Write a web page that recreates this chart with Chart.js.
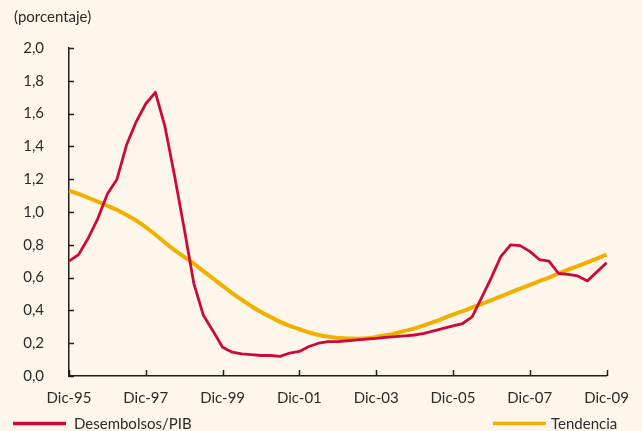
<!DOCTYPE html>
<html lang="es">
<head>
<meta charset="utf-8">
<title>Desembolsos/PIB y tendencia</title>
<script src="https://cdn.jsdelivr.net/npm/chart.js@4.4.1/dist/chart.umd.min.js"></script>
<style>
  html, body { margin: 0; padding: 0; background: #FEF6EA; }
  #wrap { width: 642px; height: 431px; position: relative; }
</style>
</head>
<body>
<div id="wrap"><canvas id="c" width="642" height="431"></canvas></div>
<script>
// Quarterly periods, Dic-95 .. Dic-09
const years = ["95","96","97","98","99","00","01","02","03","04","05","06","07","08","09"];
const months = ["Mar","Jun","Sep","Dic"];
const periods = ["Dic-95"];
for (let y = 1; y < years.length; y++) {
  for (const m of months) periods.push(m + "-" + years[y]);
}

// Labelled ticks on the time axis
const tickLabels = ["Dic-95","Dic-97","Dic-99","Dic-01","Dic-03","Dic-05","Dic-07","Dic-09"];

// Disbursements as a share of GDP (%)
const desembolsos = [
  0.70, 0.74, 0.84, 0.96, 1.11, 1.20, 1.41, 1.55, 1.66, 1.73,
  1.52, 1.22, 0.90, 0.565, 0.37, 0.275, 0.175, 0.145, 0.135, 0.13,
  0.125, 0.125, 0.12, 0.14, 0.15, 0.18, 0.20, 0.21, 0.21, 0.215,
  0.22, 0.225, 0.23, 0.235, 0.24, 0.245, 0.25, 0.26, 0.275, 0.29,
  0.305, 0.32, 0.36, 0.48, 0.60, 0.73, 0.80, 0.795, 0.76, 0.71,
  0.70, 0.625, 0.62, 0.61, 0.58, 0.635, 0.69
];

// Trend component (%)
const tendencia = [
  1.13, 1.11, 1.087, 1.063, 1.038, 1.012, 0.982, 0.948, 0.907, 0.862,
  0.814, 0.767, 0.727, 0.685, 0.64, 0.595, 0.55, 0.505, 0.465, 0.425,
  0.39, 0.36, 0.33, 0.305, 0.285, 0.265, 0.25, 0.24, 0.232, 0.228,
  0.227, 0.23, 0.238, 0.248, 0.26, 0.275, 0.29, 0.31, 0.33, 0.352,
  0.375, 0.395, 0.418, 0.44, 0.463, 0.486, 0.51, 0.533, 0.555, 0.578,
  0.60, 0.625, 0.648, 0.67, 0.693, 0.716, 0.74
];

const seriesNames = ["Desembolsos/PIB", "Tendencia"];
const seriesColors = ["#CC0A3A", "#EFB000"];

const FONT = "Lato, 'Open Sans', sans-serif";
const TEXT = "#2b2b2b";
const AXIS = "#1e1e1e";

// Inward tick marks on both axes
const innerTicks = {
  id: "innerTicks",
  afterDraw(chart) {
    const { ctx, chartArea, scales: { x, y } } = chart;
    ctx.save();
    ctx.strokeStyle = AXIS;
    ctx.lineWidth = 1.5;
    ctx.beginPath();
    y.ticks.forEach((t, i) => {
      const py = Math.round(y.getPixelForTick(i)) + 0.5;
      ctx.moveTo(chartArea.left, py);
      ctx.lineTo(chartArea.left + 5, py);
    });
    periods.forEach((p, i) => {
      if (tickLabels.includes(p)) {
        const px = Math.round(x.getPixelForValue(i)) + 0.5;
        ctx.moveTo(px, chartArea.bottom);
        ctx.lineTo(px, chartArea.bottom - 6);
      }
    });
    ctx.stroke();
    ctx.restore();
  }
};

// Unit caption and the two-item legend below the axis
const captions = {
  id: "captions",
  afterDraw(chart) {
    const { ctx } = chart;
    ctx.save();
    ctx.font = "15px " + FONT;
    ctx.fillStyle = TEXT;
    ctx.textBaseline = "middle";
    ctx.textAlign = "left";
    ctx.fillText("(porcentaje)", 14, 17);

    const items = [
      { x0: 13, x1: 66, tx: 74 },
      { x0: 493, x1: 546, tx: 551 }
    ];
    chart.data.datasets.forEach((ds, i) => {
      const it = items[i];
      ctx.strokeStyle = ds.borderColor;
      ctx.lineWidth = 3.5;
      ctx.beginPath();
      ctx.moveTo(it.x0, 423.5);
      ctx.lineTo(it.x1, 423.5);
      ctx.stroke();
      ctx.fillStyle = TEXT;
      ctx.fillText(ds.label, it.tx, 424);
    });
    ctx.restore();
  }
};

new Chart(document.getElementById("c"), {
  type: "line",
  data: {
    labels: periods,
    datasets: [
      {
        label: seriesNames[0],
        data: desembolsos,
        borderColor: seriesColors[0],
        borderWidth: 2.8,
        pointRadius: 0,
        tension: 0,
        borderJoinStyle: "round"
      },
      {
        label: seriesNames[1],
        data: tendencia,
        borderColor: seriesColors[1],
        borderWidth: 4,
        pointRadius: 0,
        tension: 0.4,
        cubicInterpolationMode: "monotone"
      }
    ]
  },
  options: {
    responsive: false,
    devicePixelRatio: 1,
    animation: false,
    layout: { padding: { left: 0, right: 25, top: 48, bottom: 0 } },
    plugins: { legend: { display: false }, tooltip: { enabled: false } },
    scales: {
      x: {
        offset: false,
        grid: { display: true, drawOnChartArea: false, drawTicks: false },
        border: { display: true, color: AXIS, width: 1.5 },
        ticks: {
          autoSkip: false,
          maxRotation: 0,
          padding: 13,
          color: TEXT,
          font: { family: FONT, size: 15 },
          callback(value, index) {
            const lab = periods[index];
            return tickLabels.includes(lab) ? lab : "";
          }
        },
        afterFit(scale) { scale.height = 55; }
      },
      y: {
        min: 0,
        max: 2,
        grid: { display: true, drawOnChartArea: false, drawTicks: false },
        border: { display: true, color: AXIS, width: 1.5 },
        ticks: {
          stepSize: 0.2,
          padding: 25,
          color: TEXT,
          font: { family: FONT, size: 15 },
          callback(value) { return value.toFixed(1).replace(".", ","); }
        },
        afterFit(scale) { scale.width = 69; }
      }
    }
  },
  plugins: [innerTicks, captions]
});
</script>
</body>
</html>
